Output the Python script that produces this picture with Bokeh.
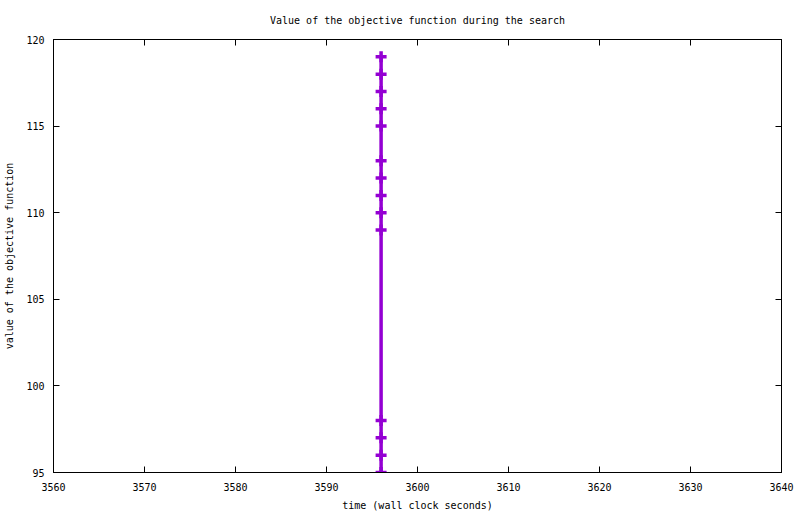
from bokeh.plotting import figure
from bokeh.models import LinearAxis, Range1d, FixedTicker, ColumnDataSource, Title
from bokeh.embed import file_html
from bokeh.resources import INLINE

time_s = [3596, 3596, 3596, 3596, 3596, 3596, 3596, 3596, 3596, 3596, 3596, 3596, 3596, 3596]
objective = [119, 118, 117, 116, 115, 113, 112, 111, 110, 109, 98, 97, 96, 95]
x_ticks = [3560, 3570, 3580, 3590, 3600, 3610, 3620, 3630, 3640]
y_ticks = [95, 100, 105, 110, 115, 120]

FONT = "DejaVu Sans Mono"
COLOR = "#9400d3"

p = figure(width=800, height=514, output_backend="svg", toolbar_location=None,
           x_range=Range1d(3560, 3640), y_range=Range1d(95, 120),
           min_border_left=53, min_border_right=19, min_border_top=39, min_border_bottom=42,
           title="Value of the objective function during the search")
p.title.align = "center"
p.title.text_font = FONT
p.title.text_font_size = "10px"
p.title.text_font_style = "normal"
p.title.text_color = "black"

p.grid.visible = False
p.outline_line_color = "black"
p.outline_line_width = 1

for ax in [p.xaxis[0], p.yaxis[0]]:
    ax.major_tick_in = 6
    ax.major_tick_out = 0
    ax.minor_tick_in = 0
    ax.minor_tick_out = 0
    ax.major_label_text_font = FONT
    ax.major_label_text_font_size = "10px"
    ax.major_label_text_color = "black"
    ax.axis_label_text_font = FONT
    ax.axis_label_text_font_size = "10px"
    ax.axis_label_text_font_style = "normal"
    ax.axis_label_text_color = "black"
    ax.axis_line_color = "black"

p.xaxis[0].ticker = FixedTicker(ticks=x_ticks)
p.yaxis[0].ticker = FixedTicker(ticks=y_ticks)
p.xaxis[0].axis_label = "time (wall clock seconds)"
p.yaxis[0].axis_label = "value of the objective function"
p.xaxis[0].major_label_standoff = 10
p.yaxis[0].major_label_standoff = 9
p.xaxis[0].axis_label_standoff = 6
p.yaxis[0].axis_label_standoff = 8

top = LinearAxis(ticker=FixedTicker(ticks=x_ticks),
                 major_label_overrides={t: "" for t in x_ticks},
                 major_tick_in=6, major_tick_out=0, minor_tick_in=0, minor_tick_out=0,
                 axis_line_color="black")
right = LinearAxis(ticker=FixedTicker(ticks=y_ticks),
                   major_label_overrides={t: "" for t in y_ticks},
                   major_tick_in=6, major_tick_out=0, minor_tick_in=0, minor_tick_out=0,
                   axis_line_color="black")
top.major_label_standoff = 0
right.major_label_standoff = 0
p.add_layout(top, "above")
p.add_layout(Title(text=" ", text_font_size="7px", standoff=0), "above")
p.add_layout(right, "right")

src = ColumnDataSource(dict(x=time_s, y=objective))
p.line("x", "y", source=src, line_color=COLOR, line_width=3.5)
p.scatter("x", "y", source=src, marker="cross", size=11, line_color=COLOR, line_width=3.5)

open("out.html", "w").write(file_html(p, INLINE))
